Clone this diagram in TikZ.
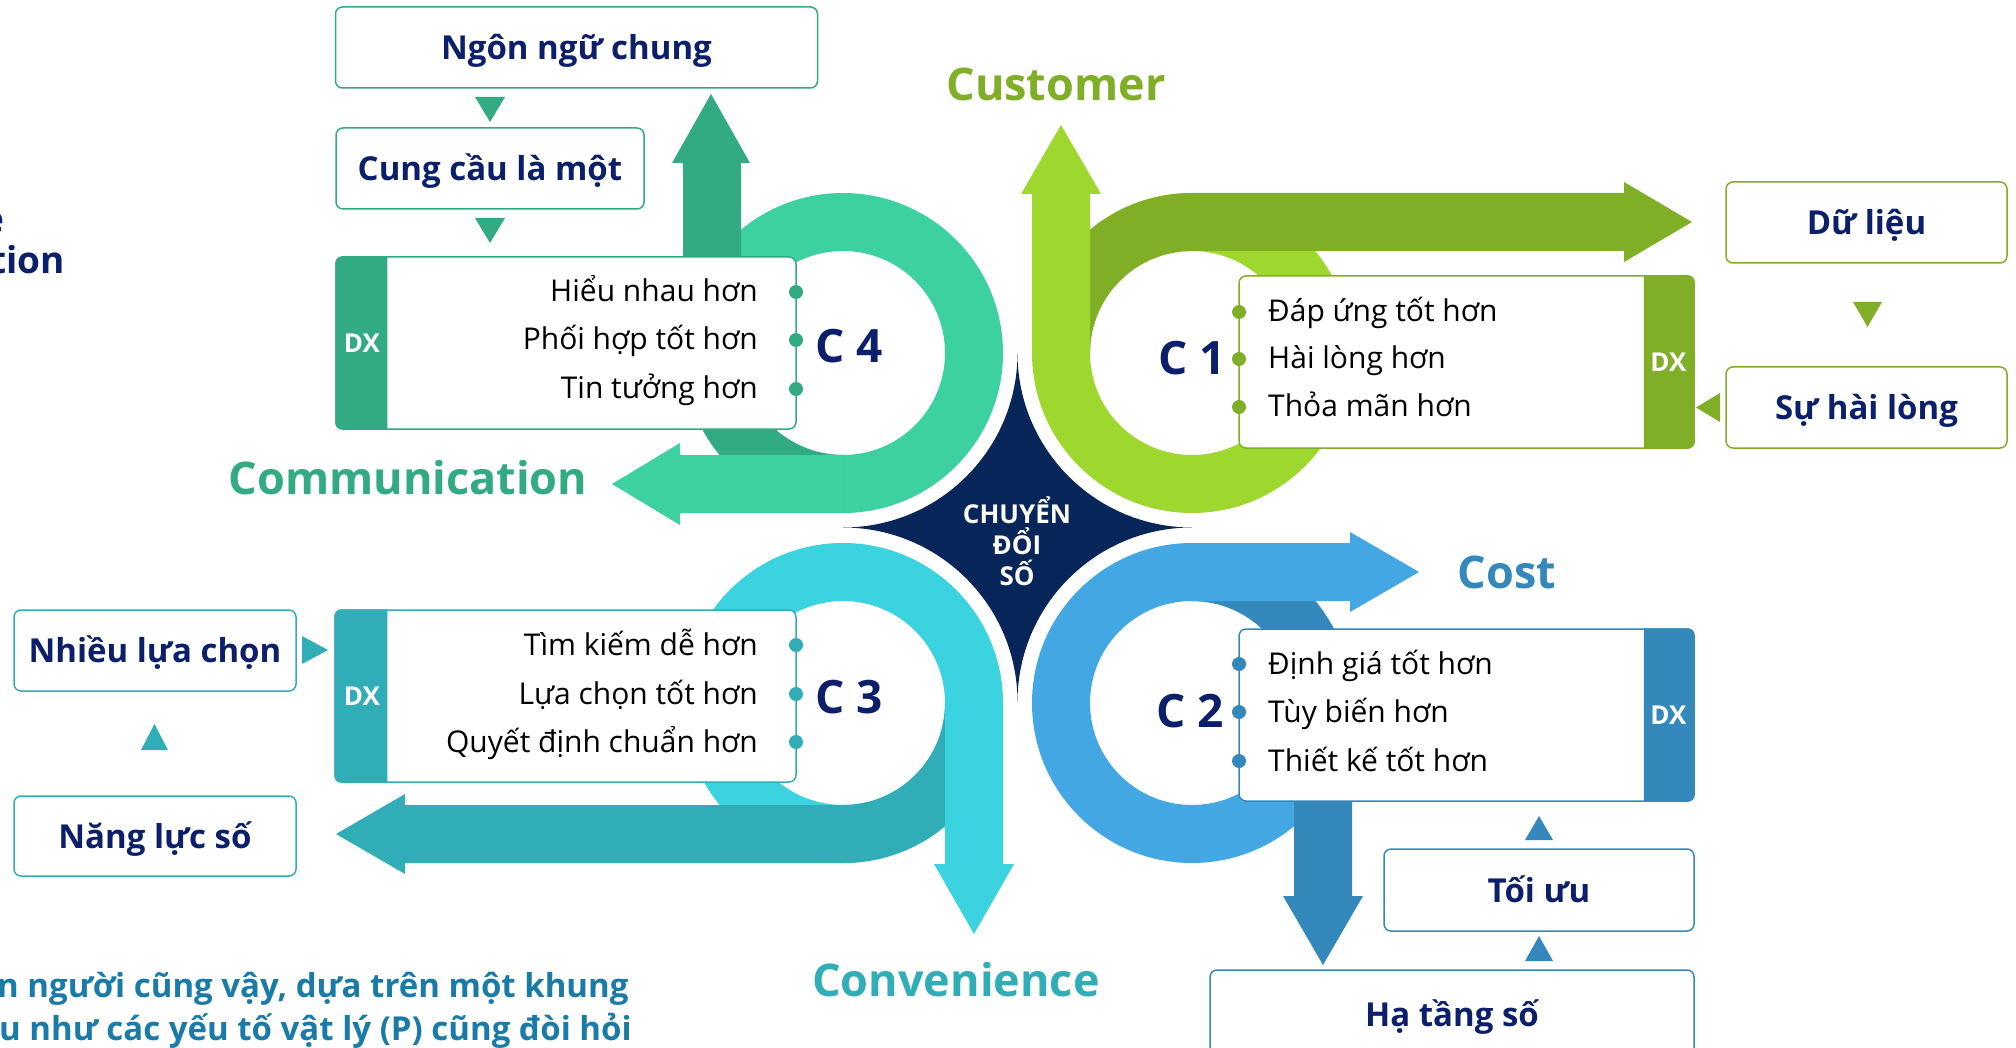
\documentclass[tikz,border=0pt]{standalone}
\usepackage{fontspec}
\setmainfont{Open Sans}
\usetikzlibrary{calc}
\definecolor{c4l}{HTML}{3DD1A1}
\definecolor{c4d}{HTML}{32AA84}
\definecolor{c1l}{HTML}{9ED82E}
\definecolor{c1d}{HTML}{80AE27}
\definecolor{c3l}{HTML}{3CD3E0}
\definecolor{c3d}{HTML}{31ADB8}
\definecolor{c2l}{HTML}{42A7E2}
\definecolor{c2d}{HTML}{3588BC}
\definecolor{navy}{HTML}{0B1F6B}
\definecolor{starc}{HTML}{08265A}
\definecolor{btext}{HTML}{1B7BA8}
\begin{document}
\begin{tikzpicture}[x=1pt,y=-1pt,
  tbox/.style={draw=#1, line width=1.5pt, fill=white, rounded corners=7pt, text=navy,
    font=\bfseries\fontsize{33}{40}\selectfont, text height=30pt, text depth=6pt, inner sep=0pt},
  cbox/.style={draw=#1, line width=1.5pt, fill=white, rounded corners=7pt, inner sep=0pt},
  item/.style={font=\fontsize{30}{34}\selectfont, text=black, inner sep=0pt},
  clabel/.style={font=\bfseries\fontsize{46}{50}\selectfont, text=navy, inner sep=0pt},
  dxlabel/.style={font=\bfseries\fontsize{26}{28}\selectfont, text=white, inner sep=0pt},
  big/.style={font=\bfseries\fontsize{45}{50}\selectfont, text=#1, inner sep=0pt},
  tri/.style={fill=#1},
  dot/.style={fill=#1}
]
\useasboundingbox (0,0) rectangle (2016,1048);
\fill[white] (0,0) rectangle (2016,1048);

% ---------------- C4 (top left) ----------------
\fill[c4l, even odd rule] (843,353) circle[radius=160] (843,353) circle[radius=102];
\fill[c4d] (843,513) arc[start angle=90,end angle=180,radius=160] -- (741,353) arc[start angle=180,end angle=90,radius=102] -- cycle;
\fill[c4d] (683,353) -- (683,163) -- (672,163) -- (711,94) -- (750,163) -- (741,163) -- (741,353) -- cycle;
\fill[c4l] (843,455) -- (680,455) -- (680,443) -- (612,484) -- (680,525) -- (680,513) -- (843,513) -- cycle;

% ---------------- C1 (top right) ----------------
\fill[c1l, even odd rule] (1192,353) circle[radius=160] (1192,353) circle[radius=102];
\fill[c1d] (1032,353) arc[start angle=180,end angle=270,radius=160] -- (1192,251) arc[start angle=270,end angle=180,radius=102] -- cycle;
\fill[c1d] (1192,193) -- (1624,193) -- (1624,182) -- (1692,222) -- (1624,262) -- (1624,251) -- (1192,251) -- cycle;
\fill[c1l] (1032,353) -- (1032,194) -- (1021,194) -- (1061,125) -- (1101,194) -- (1090,194) -- (1090,353) -- cycle;

% ---------------- C3 (bottom left) ----------------
\fill[c3l, even odd rule] (843,703) circle[radius=160] (843,703) circle[radius=102];
\fill[c3d] (1003,703) arc[start angle=0,end angle=90,radius=160] -- (843,805) arc[start angle=90,end angle=0,radius=102] -- cycle;
\fill[c3d] (843,805) -- (405,805) -- (405,794) -- (336,834) -- (405,874) -- (405,863) -- (843,863) -- cycle;
\fill[c3l] (945,703) -- (945,864) -- (934,864) -- (974,934) -- (1014,864) -- (1003,864) -- (1003,703) -- cycle;

% ---------------- C2 (bottom right) ----------------
\fill[c2l, even odd rule] (1192,703) circle[radius=160] (1192,703) circle[radius=102];
\fill[c2d] (1192,543) arc[start angle=270,end angle=360,radius=160] -- (1294,703) arc[start angle=360,end angle=270,radius=102] -- cycle;
\fill[c2d] (1294,703) -- (1294,896) -- (1283,896) -- (1323,965) -- (1363,896) -- (1352,896) -- (1352,703) -- cycle;
\fill[c2l] (1192,543) -- (1350,543) -- (1350,532) -- (1419,572) -- (1350,612) -- (1350,601) -- (1192,601) -- cycle;

% ---------------- central star ----------------
\fill[starc] (1017.5,353) arc[start angle=0,end angle=90,radius=174.5]
  arc[start angle=270,end angle=360,radius=174.5]
  arc[start angle=180,end angle=270,radius=174.5]
  arc[start angle=90,end angle=180,radius=174.5] -- cycle;
\node[font=\bfseries\fontsize{26}{31}\selectfont, text=white, align=center, inner sep=0pt] (star) at (1017,541) {CHUYỂN\\ĐỔI\\SỐ};

% ---------------- C4 box ----------------
\node[cbox=c4d, minimum width=460, minimum height=172] (b4) at (566,343) {};
\begin{scope}
  \clip (b4.north west) rectangle ([xshift=52pt]b4.south west);
  \fill[c4d, rounded corners=7pt] (b4.north west) rectangle ([xshift=80pt]b4.south west);
\end{scope}
\node[dxlabel] (dx4) at (362,343) {DX};
\node[item, anchor=base east] (i4a) at (758,302) {Hiểu nhau hơn};
\node[item, anchor=base east] (i4b) at (758,350) {Phối hợp tốt hơn};
\node[item, anchor=base east] (i4c) at (758,399) {Tin tưởng hơn};
\fill[dot=c4d] (796,292) circle[radius=7];
\fill[dot=c4d] (796,340) circle[radius=7];
\fill[dot=c4d] (796,389) circle[radius=7];
\node[clabel, anchor=base] (l4) at (849,363) {C 4};

\node[tbox=c4d, minimum width=482, minimum height=81] (ngon) at (576.5,47.5) {Ngôn ngữ chung};
\node[tbox=c4d, minimum width=308, minimum height=81] (cung) at (490,168.5) {Cung cầu là một};
\fill[tri=c4d] (475,97) -- (505,97) -- (490,122) -- cycle;
\fill[tri=c4d] (475,218) -- (505,218) -- (490,243) -- cycle;
\node[big=c4d] (comm) at (408,478) {Communication};

% ---------------- C1 box ----------------
\node[cbox=c1d, minimum width=455, minimum height=172] (b1) at (1466.5,362) {};
\begin{scope}
  \clip ([xshift=-51pt]b1.north east) rectangle (b1.south east);
  \fill[c1d, rounded corners=7pt] ([xshift=-80pt]b1.north east) rectangle (b1.south east);
\end{scope}
\node[dxlabel] (dx1) at (1668.5,362) {DX};
\node[item, anchor=base west] (i1a) at (1268,322) {Đáp ứng tốt hơn};
\node[item, anchor=base west] (i1b) at (1268,369) {Hài lòng hơn};
\node[item, anchor=base west] (i1c) at (1268,417) {Thỏa mãn hơn};
\fill[dot=c1d] (1239,312) circle[radius=7];
\fill[dot=c1d] (1239,359) circle[radius=7];
\fill[dot=c1d] (1239,407) circle[radius=7];
\node[clabel, anchor=base] (l1) at (1192,375) {C 1};

\node[tbox=c1d, minimum width=281, minimum height=81] (du) at (1866.5,222.5) {Dữ liệu};
\node[tbox=c1d, minimum width=281, minimum height=81] (su) at (1866.5,407.5) {Sự hài lòng};
\fill[tri=c1d] (1853,302) -- (1882,302) -- (1867.5,327) -- cycle;
\fill[tri=c1d] (1720,393) -- (1720,422) -- (1696,407.5) -- cycle;
\node[big=c1d] (cust) at (1056,84) {Customer};

% ---------------- C3 box ----------------
\node[cbox=c3d, minimum width=461, minimum height=172] (b3) at (565.5,696) {};
\begin{scope}
  \clip (b3.north west) rectangle ([xshift=53pt]b3.south west);
  \fill[c3d, rounded corners=7pt] (b3.north west) rectangle ([xshift=80pt]b3.south west);
\end{scope}
\node[dxlabel] (dx3) at (362,696) {DX};
\node[item, anchor=base east] (i3a) at (758,655) {Tìm kiếm dễ hơn};
\node[item, anchor=base east] (i3b) at (758,704) {Lựa chọn tốt hơn};
\node[item, anchor=base east] (i3c) at (758,752) {Quyết định chuẩn hơn};
\fill[dot=c3d] (796,645) circle[radius=7];
\fill[dot=c3d] (796,694) circle[radius=7];
\fill[dot=c3d] (796,742) circle[radius=7];
\node[clabel, anchor=base] (l3) at (849,713) {C 3};

\node[tbox=c3d, minimum width=282, minimum height=81] (nhieu) at (155,650.5) {Nhiều lựa chọn};
\node[tbox=c3d, minimum width=282, minimum height=80] (nang) at (155,836) {Năng lực số};
\fill[tri=c3d] (302,636) -- (328,650) -- (302,664) -- cycle;
\fill[tri=c3d] (141,750) -- (168,750) -- (154.5,724) -- cycle;
\node[big=c3d] (conv) at (956,980) {Convenience};

% ---------------- C2 box ----------------
\node[cbox=c2d, minimum width=455, minimum height=172] (b2) at (1466.5,715) {};
\begin{scope}
  \clip ([xshift=-51pt]b2.north east) rectangle (b2.south east);
  \fill[c2d, rounded corners=7pt] ([xshift=-80pt]b2.north east) rectangle (b2.south east);
\end{scope}
\node[dxlabel] (dx2) at (1668.5,715) {DX};
\node[item, anchor=base west] (i2a) at (1268,674) {Định giá tốt hơn};
\node[item, anchor=base west] (i2b) at (1268,722) {Tùy biến hơn};
\node[item, anchor=base west] (i2c) at (1268,771) {Thiết kế tốt hơn};
\fill[dot=c2d] (1239,664) circle[radius=7];
\fill[dot=c2d] (1239,712) circle[radius=7];
\fill[dot=c2d] (1239,761) circle[radius=7];
\node[clabel, anchor=base] (l2) at (1190,727) {C 2};

\node[tbox=c2d, minimum width=310, minimum height=82] (toi) at (1539,890) {Tối ưu};
\node[tbox=c2d, minimum width=484, minimum height=88] (ha) at (1452,1014) {Hạ tầng số};
\fill[tri=c2d] (1525,840) -- (1553,840) -- (1539,816) -- cycle;
\fill[tri=c2d] (1525,961) -- (1553,961) -- (1539,936) -- cycle;
\node[big=c2d] (cost) at (1507,572) {Cost};

% ---------------- cut-off texts at the edges ----------------
\node[font=\bfseries\fontsize{37}{40}\selectfont, text=navy, anchor=base east, inner sep=0pt] (edge1) at (5,233) {e};
\node[font=\bfseries\fontsize{37}{40}\selectfont, text=navy, anchor=base east, inner sep=0pt] (edge2) at (65,274) {tion};
\node[font=\bfseries\fontsize{33}{36}\selectfont, text=btext, anchor=base west, inner sep=0pt] (foot1) at (-3,997) {n người cũng vậy, dựa trên một khung};
\node[font=\bfseries\fontsize{33}{36}\selectfont, text=btext, anchor=base west, inner sep=0pt] (foot2) at (-1,1040) {u như các yếu tố vật lý (P) cũng đòi hỏi};
\end{tikzpicture}
\end{document}
